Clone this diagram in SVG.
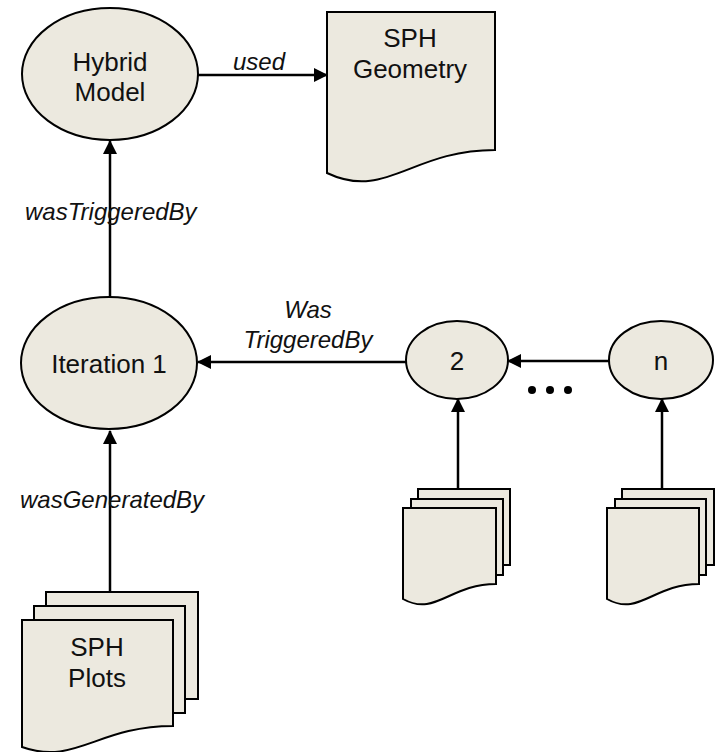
<svg xmlns="http://www.w3.org/2000/svg" width="718" height="752" viewBox="0 0 718 752">
<defs>
<style>
.shape{fill:#ECE9DF;stroke:#000;stroke-width:2}
.node{font-family:"Liberation Sans",Arial,sans-serif;font-size:26px;fill:#111;text-anchor:middle}
.lbl{font-family:"Liberation Sans",Arial,sans-serif;font-size:24px;font-style:italic;fill:#111}
.edge{stroke:#000;stroke-width:2.5;fill:none;marker-end:url(#ah)}
.line{stroke:#000;stroke-width:2.5;fill:none}
</style>
<marker id="ah" markerUnits="userSpaceOnUse" markerWidth="14" markerHeight="14" viewBox="0 0 14 14" refX="13" refY="7" orient="auto">
<path d="M0,0 L14,7 L0,14 Z" fill="#000"/>
</marker>
</defs>
<rect width="718" height="752" fill="#fff"/>
<g id="connectors">
<line class="edge" x1="198" y1="75" x2="327" y2="75"/>
<line class="edge" x1="110" y1="297" x2="110" y2="141"/>
<line class="edge" x1="406" y1="362" x2="198" y2="362"/>
<line class="edge" x1="609" y1="361" x2="508" y2="361"/>
<line class="edge" x1="110" y1="592" x2="110" y2="431"/>
<line class="edge" x1="458" y1="489" x2="458" y2="399"/>
<line class="edge" x1="662" y1="489" x2="662" y2="399"/>
<text class="lbl" x="233" y="70">used</text>
<text class="lbl" x="25" y="220">wasTriggeredBy</text>
<text class="lbl" x="20" y="508">wasGeneratedBy</text>
<text class="lbl" x="308" y="318" text-anchor="middle">Was</text>
<text class="lbl" x="308" y="348" text-anchor="middle">TriggeredBy</text>
</g>
<g id="hybrid-model">
<ellipse class="shape" cx="110" cy="74" rx="88" ry="66"/>
<text class="node" x="110" y="71">Hybrid</text>
<text class="node" x="110" y="101">Model</text>
</g>
<g id="sph-geometry">
<path class="shape" d="M327,12 H495 V150 C411,150 386,201 327,173 Z"/>
<text class="node" x="410" y="47">SPH</text>
<text class="node" x="410" y="78">Geometry</text>
</g>
<g id="iteration-1">
<ellipse class="shape" cx="109" cy="363" rx="88" ry="66"/>
<text class="node" x="109" y="373">Iteration 1</text>
</g>
<g id="iteration-2">
<ellipse class="shape" cx="457" cy="360" rx="51" ry="39"/>
<text class="node" x="457" y="370">2</text>
</g>
<g id="iteration-n">
<ellipse class="shape" cx="661" cy="360" rx="52" ry="39"/>
<text class="node" x="661" y="370">n</text>
</g>
<g id="ellipsis">
<circle cx="532" cy="390" r="4" fill="#000"/>
<circle cx="550" cy="390" r="4" fill="#000"/>
<circle cx="568" cy="390" r="4" fill="#000"/>
</g>
<g id="docs-2">
<rect class="shape" x="418" y="489" width="92" height="76"/>
<rect class="shape" x="411" y="499" width="92" height="76"/>
<path class="shape" d="M403,508 H496 V584 C449.5,584 435.5,617 403,599 Z"/>
</g>
<g id="docs-n">
<rect class="shape" x="622" y="489" width="92" height="76"/>
<rect class="shape" x="615" y="499" width="91" height="76"/>
<path class="shape" d="M607,508 H699 V584 C653,584 639,617 607,599 Z"/>
</g>
<g id="sph-plots">
<rect class="shape" x="46" y="592" width="152" height="107"/>
<rect class="shape" x="34" y="606" width="151" height="107"/>
<path class="shape" d="M22,620 H173 V726 C97.5,726 75,766 22,747 Z"/>
<text class="node" x="97" y="656">SPH</text>
<text class="node" x="97" y="687">Plots</text>
</g>
</svg>
